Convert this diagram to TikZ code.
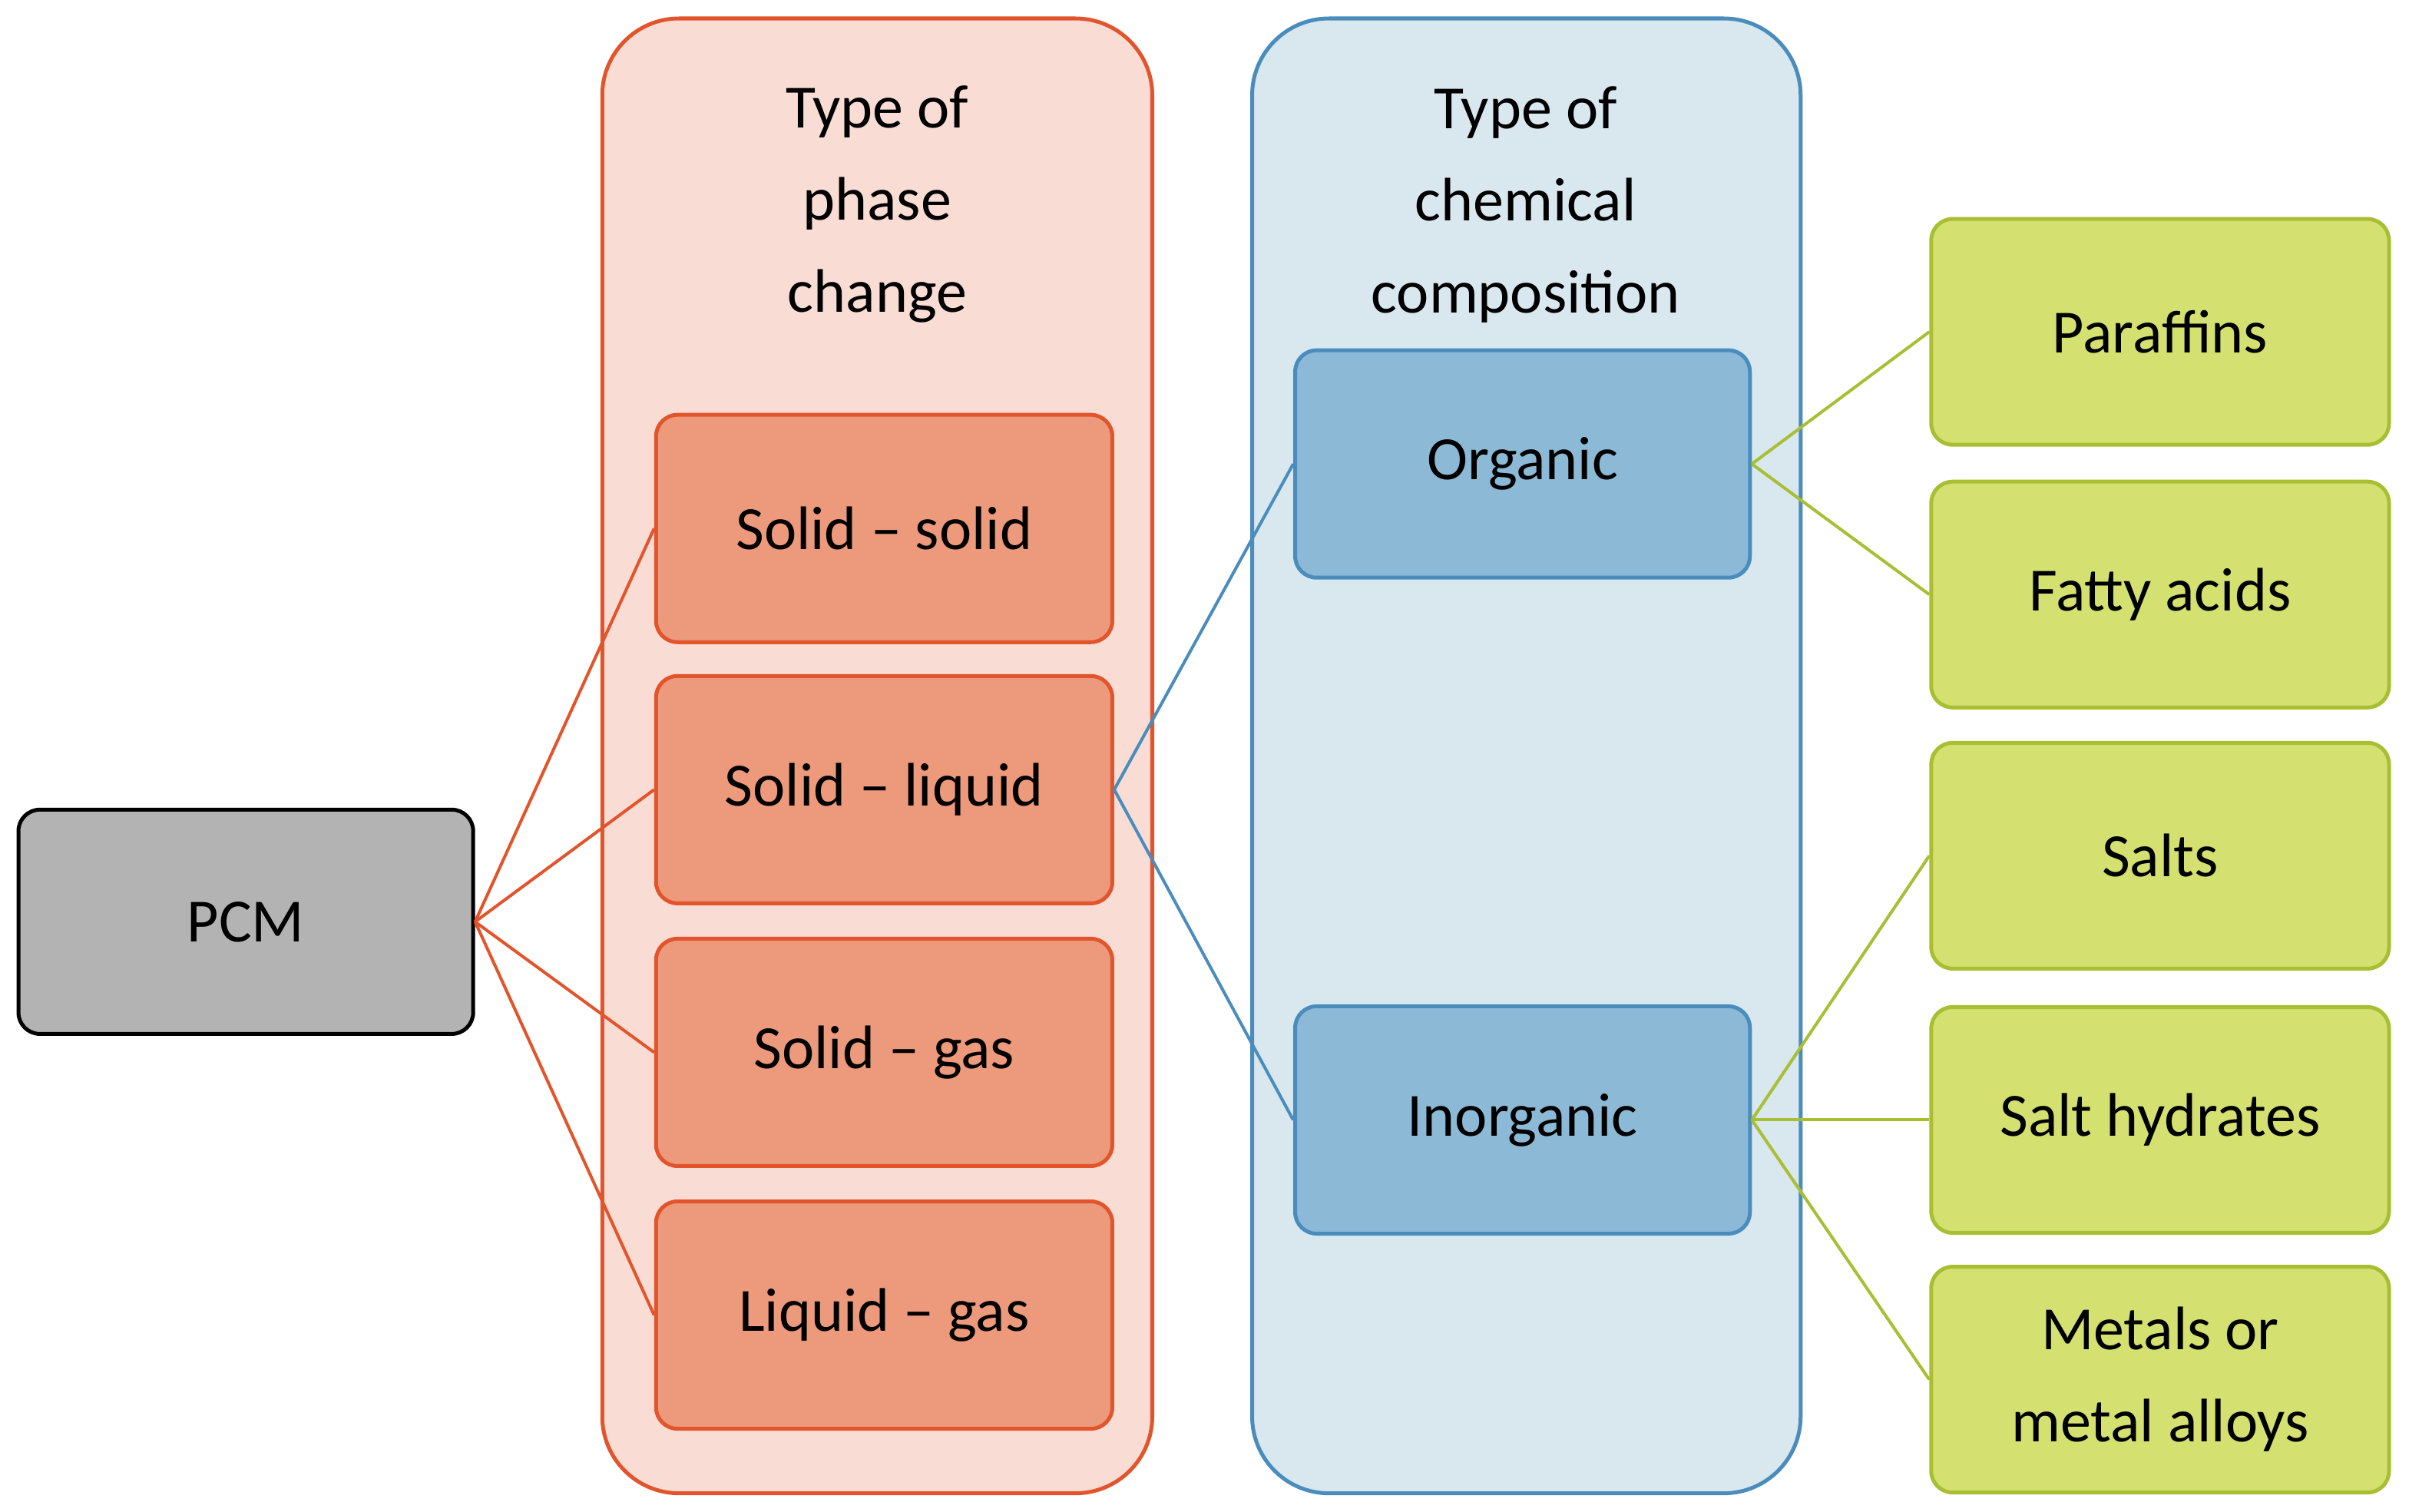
\documentclass[tikz,border=0pt]{standalone}
\usepackage{fontspec}
\setmainfont{Carlito}
\definecolor{rstroke}{HTML}{E2552C}
\definecolor{rbg}{HTML}{F9DCD4}
\definecolor{rbox}{HTML}{EC997C}
\definecolor{bstroke}{HTML}{4A8DBD}
\definecolor{bbg}{HTML}{D9E7EF}
\definecolor{bbox}{HTML}{8CB9D5}
\definecolor{gstroke}{HTML}{A8BF34}
\definecolor{gbox}{HTML}{D4E06F}
\definecolor{gray1}{HTML}{B3B3B3}
\begin{document}
\begin{tikzpicture}[x=1pt,y=-1pt,
  txt/.style={font=\fontsize{40}{60}\selectfont},
  box/.style={rounded corners=14pt,line width=2.5pt},
  red/.style={box,draw=rstroke,fill=rbox},
  blu/.style={box,draw=bstroke,fill=bbox},
  grn/.style={box,draw=gstroke,fill=gbox},
  rl/.style={draw=rstroke,line width=2pt},
  bl/.style={draw=bstroke,line width=2pt},
  gl/.style={draw=gstroke,line width=2pt}]
\useasboundingbox (0,0) rectangle (1568,984);
\fill[white] (0,0) rectangle (1568,984);
\draw[line width=2.5pt,draw=rstroke,fill=rbg,rounded corners=50pt] (392,12) rectangle (750,972);
\draw[line width=2.5pt,draw=bstroke,fill=bbg,rounded corners=50pt] (815,12) rectangle (1172,972);
\node[txt,align=center] (t1) at (571,133) {Type of\\phase\\change};
\node[txt,align=center] (t2) at (993,133) {Type of\\chemical\\composition};
\newcommand\bx[6]{\draw[#1] (#2,#3) rectangle (#4,#5) node[midway,txt,align=center,black] {#6};}
\node[box,draw=black,fill=gray1,minimum width=296pt,minimum height=146pt,txt] (pcm) at (160,600) {PCM};
\node[red,minimum width=297pt,minimum height=148pt,txt] (r1) at (575.5,344) {Solid – solid};
\node[red,minimum width=297pt,minimum height=148pt,txt] (r2) at (575.5,514) {Solid – liquid};
\node[red,minimum width=297pt,minimum height=148pt,txt] (r3) at (575.5,685) {Solid – gas};
\node[red,minimum width=297pt,minimum height=148pt,txt] (r4) at (575.5,856) {Liquid – gas};
\node[blu,minimum width=296pt,minimum height=148pt,txt] (o) at (991,302) {Organic};
\node[blu,minimum width=296pt,minimum height=148pt,txt] (i) at (991,729) {Inorganic};
\node[grn,minimum width=298pt,minimum height=147pt,txt] (g1) at (1406,216) {Paraffins};
\node[grn,minimum width=298pt,minimum height=147pt,txt] (g2) at (1406,387) {Fatty acids};
\node[grn,minimum width=298pt,minimum height=147pt,txt] (g3) at (1406,557) {Salts};
\node[grn,minimum width=298pt,minimum height=147pt,txt] (g4) at (1406,729) {Salt hydrates};
\node[grn,minimum width=298pt,minimum height=147pt,txt,align=center] (g5) at (1406,898) {Metals or\\metal alloys};
\foreach \n in {r1,r2,r3,r4} \draw[rl] (pcm.east) -- (\n.west);
\foreach \n in {o,i} \draw[bl] (r2.east) -- (\n.west);
\foreach \n in {g1,g2} \draw[gl] (o.east) -- (\n.west);
\foreach \n in {g3,g4,g5} \draw[gl] (i.east) -- (\n.west);
\end{tikzpicture}
\end{document}
